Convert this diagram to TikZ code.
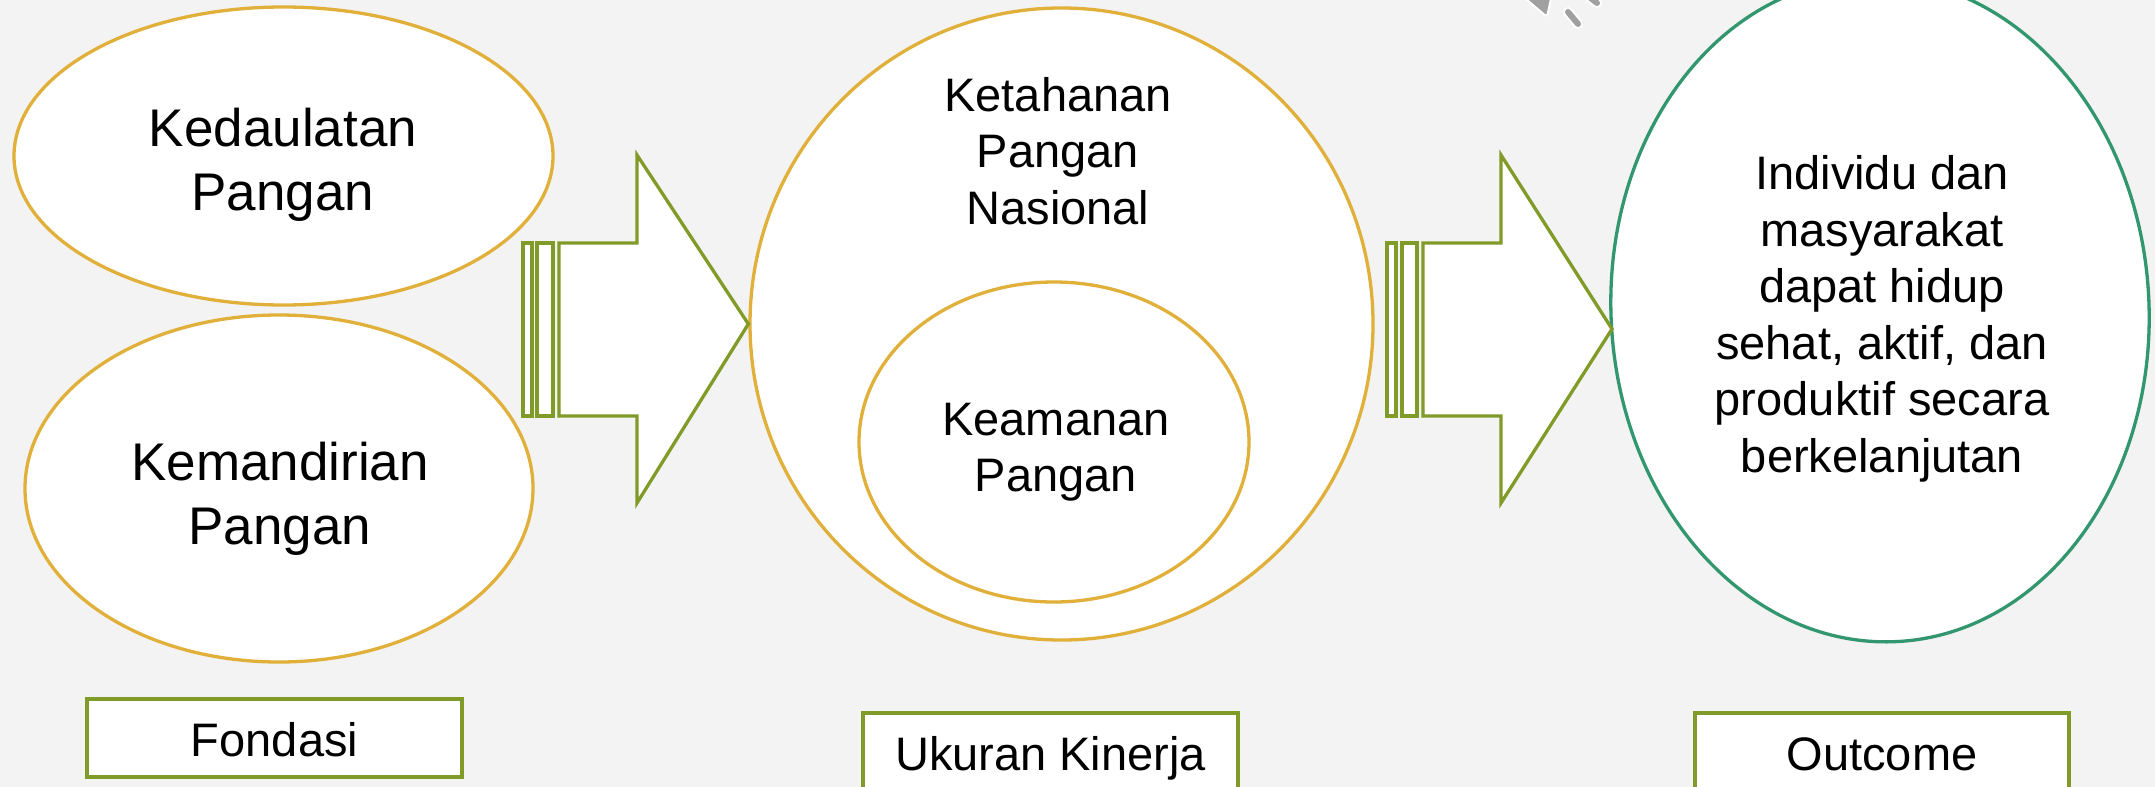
\documentclass[tikz,border=0pt]{standalone}
\usepackage{fontspec}
\setmainfont{Liberation Sans}
\usetikzlibrary{shapes.geometric}
\definecolor{gold}{RGB}{224,176,58}
\definecolor{olive}{RGB}{128,155,40}
\definecolor{tealg}{RGB}{50,150,110}
\definecolor{bgc}{RGB}{243,243,243}
\definecolor{icon}{RGB}{160,160,160}
\begin{document}
\begin{tikzpicture}[x=1pt,y=-1pt,
  oval/.style={ellipse, draw=gold, line width=3.3pt, fill=white, inner sep=0pt},
  bigtxt/.style={font=\fontsize{53}{64}\selectfont, align=center, inner sep=0pt},
  midtxt/.style={font=\fontsize{47}{56.5}\selectfont, align=center, inner sep=0pt},
  boxtxt/.style={font=\fontsize{47}{56}\selectfont, inner sep=0pt},
  labbox/.style={draw=olive, fill=white, line width=3.3pt, inner sep=0pt},
  arw/.style={draw=olive, fill=white, line width=3.3pt, line join=miter}
]
\useasboundingbox (0,0) rectangle (2155,787);
\clip (0,0) rectangle (2155,787);
\fill[bgc] (0,0) rectangle (2155,787);

% speaker icon fragment
\draw[icon, fill=icon, draw=white, line width=2pt, rounded corners=3pt] (1520,-6) -- (1547,17) -- (1552,-6) -- cycle;
\draw[white, line width=10pt, line cap=round] (1568,12) -- (1578,24);
\draw[icon, line width=6pt, line cap=round] (1568,12) -- (1578,24);
\draw[white, line width=10pt, line cap=round] (1588,-4) -- (1597,3);
\draw[icon, line width=6pt, line cap=round] (1588,-4) -- (1597,3);

% left ellipses
\node[oval, minimum width=539pt, minimum height=298pt] (kedaulatan) at (283.5,156) {};
\node[bigtxt] (kedtxt) at (283,165) {Kedaulatan\\Pangan};
\node[oval, minimum width=508pt, minimum height=347pt] (kemandirian) at (279,488.5) {};
\node[bigtxt] (kemtxt) at (280,499) {Kemandirian\\Pangan};

% middle circle
\node[oval, minimum width=623pt, minimum height=632pt] (ketahanan) at (1061.5,324) {};
\node[midtxt] (kettxt) at (1058,151) {Ketahanan\\Pangan\\Nasional};
\node[oval, minimum width=390pt, minimum height=320pt] (keamanan) at (1054,442) {};
\node[midtxt] (keatxt) at (1056,452) {Keamanan\\Pangan};

% right ellipse
\node[ellipse, draw=tealg, line width=3.3pt, fill=white, inner sep=0pt,
      minimum width=538pt, minimum height=664pt, rotate=3] (outcomeov) at (1880,310) {};
\node[midtxt] (outtxt) at (1882,319) {Individu dan\\masyarakat\\dapat hidup\\sehat, aktif, dan\\produktif secara\\berkelanjutan};

% arrows
\draw[arw] (523,243) rectangle (532,416);
\draw[arw] (537,243) rectangle (553,416);
\draw[arw] (559,243) -- (637,243) -- (637,155) -- (ketahanan.west) -- (637,503) -- (637,416) -- (559,416) -- cycle;
\draw[arw] (1387,243) rectangle (1396,416);
\draw[arw] (1402,243) rectangle (1417,416);
\draw[arw] (1423,243) -- (1501,243) -- (1501,155) -- (1612,329) -- (1501,503) -- (1501,416) -- (1423,416) -- cycle;

% label boxes
\node[labbox, minimum width=375pt, minimum height=78pt] (fondasi) at (274.5,738) {};
\node[boxtxt, anchor=base] at (274.5,756) {Fondasi};
\node[labbox, minimum width=375pt, minimum height=100pt] (ukuran) at (1050.5,763) {};
\node[boxtxt, anchor=base] at (1050.5,770) {Ukuran Kinerja};
\node[labbox, minimum width=374pt, minimum height=100pt] (outcome) at (1882,763) {};
\node[boxtxt, anchor=base] at (1882,770) {Outcome};
\end{tikzpicture}
\end{document}
